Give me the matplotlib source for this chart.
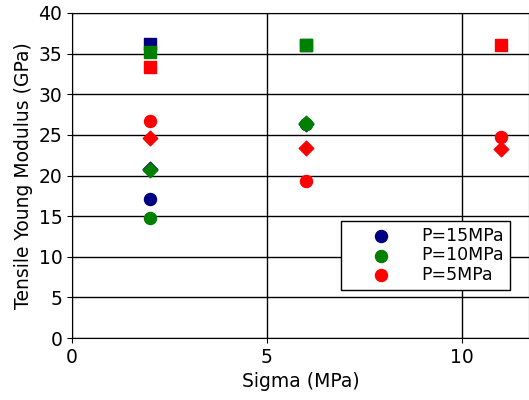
import numpy as np
import matplotlib
matplotlib.use("Agg")
import matplotlib.pyplot as plt

# Dados
sigma_15 = [2, 6]
circ_15 = [17.1, 26.3]
diam_15 = [20.8, 26.3]
sq_15 = [36.2, 36.1]

sigma_10 = [2, 6]
circ_10 = [14.8, 26.3]
diam_10 = [20.7, 26.5]
sq_10 = [35.2, 36.1]

sigma_5 = [2, 6, 11]
circ_5 = [26.7, 19.3, 24.7]
diam_5 = [24.6, 23.4, 23.3]
sigma_5_sq = [2, 11]
sq_5 = [33.3, 36.1]

cores = {'15': '#000080', '10': '#008000', '5': '#ff0000'}

fig = plt.figure(figsize=(5.29, 4.0), dpi=100)
ax = fig.add_axes([72/529, 62/400, 1 - 72/529, 325/400])

for s, c, d, sq_x, q, k in [(sigma_15, circ_15, diam_15, sigma_15, sq_15, '15'),
                            (sigma_10, circ_10, diam_10, sigma_10, sq_10, '10'),
                            (sigma_5, circ_5, diam_5, sigma_5_sq, sq_5, '5')]:
    ax.scatter(s, c, s=75, marker='o', color=cores[k], label=f'P={k}MPa', zorder=3)
    ax.scatter(s, d, s=55, marker='D', color=cores[k], zorder=3)
    ax.scatter(sq_x, q, s=75, marker='s', color=cores[k], zorder=3)

ax.set_xlim(0, 11.72)
ax.set_ylim(0, 40)
ax.set_xticks([0, 5, 10])
ax.set_yticks(np.arange(0, 41, 5))
ax.grid(True, color='black', linewidth=1)
ax.set_axisbelow(True)
ax.tick_params(labelsize=13.5)
ax.set_xlabel('Sigma (MPa)', fontsize=13.5)
ax.set_ylabel('Tensile Young Modulus (GPa)', fontsize=13.5)
leg = ax.legend(loc='lower right', bbox_to_anchor=(0.958, 0.148), borderaxespad=0,
                fontsize=12.5, fancybox=False, edgecolor='black', framealpha=1,
                handlelength=3.9, handletextpad=0.35, borderpad=0.35, labelspacing=0.08)
leg.get_frame().set_linewidth(1)

fig.savefig('out.png', dpi=100)
